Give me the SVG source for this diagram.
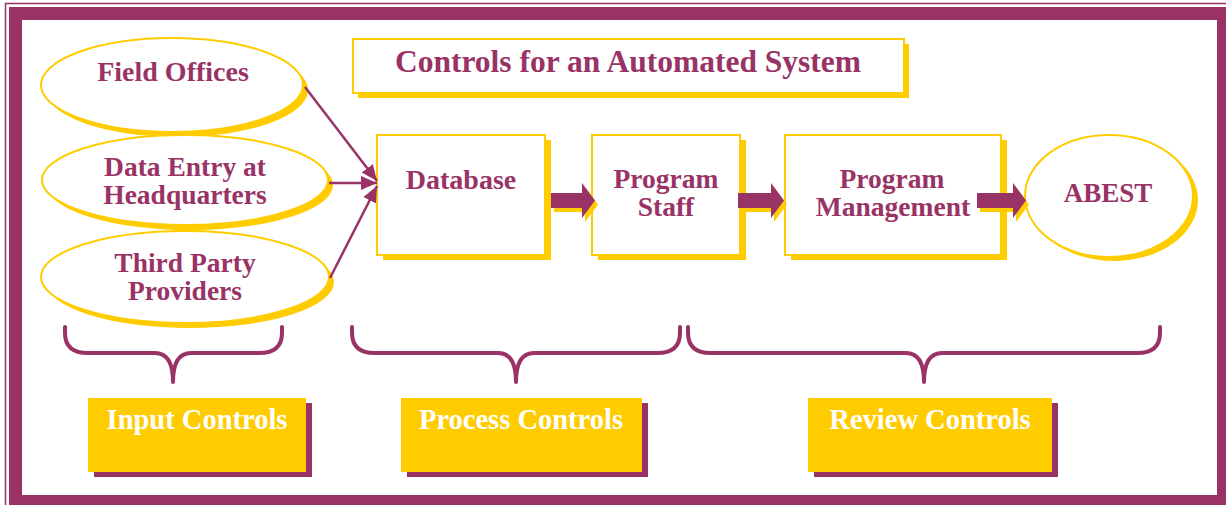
<svg xmlns="http://www.w3.org/2000/svg" width="1226" height="505" viewBox="0 0 1226 505">
<style>
.t{font-family:"Liberation Serif","Times New Roman",serif;font-weight:bold;fill:#993366;text-anchor:middle}
.w{font-family:"Liberation Serif","Times New Roman",serif;font-weight:bold;fill:#ffffff;text-anchor:middle;font-size:28.5px}
.sh{fill:#ffcc00}
.nd{fill:#ffffff;stroke:#ffcc00;stroke-width:2}
.lab{fill:#ffcc00}
.labsh{fill:#993366}
.ln{stroke:#993366;stroke-width:2.5;fill:none}
.br{stroke:#993366;stroke-width:4;fill:none;stroke-linecap:round;stroke-linejoin:round}
.ar{fill:#993366}
</style>
<defs>
<marker id="ah" markerUnits="userSpaceOnUse" markerWidth="18" markerHeight="16" refX="16" refY="8" orient="auto">
<path d="M0,1 L16,8 L0,15 Z" fill="#993366"/>
</marker>
</defs>
<rect width="1226" height="505" fill="#ffffff"/>
<g id="frame">
<rect x="5.5" y="3.5" width="1240" height="520" fill="none" stroke="#993366" stroke-width="1.5"/>
<path fill="#993366" fill-rule="evenodd" d="M9,7 H1226 V505 H9 Z M22,20 V495 H1217 V20 Z"/>
</g>
<g id="title">
<rect x="358" y="44" width="551" height="54" class="sh"/>
<rect x="353" y="39" width="551" height="54" class="nd"/>
<text x="628" y="72" class="t" font-size="31.5">Controls for an Automated System</text>
</g>
<g id="field-offices">
<ellipse cx="177" cy="90" rx="131" ry="47" class="sh"/>
<ellipse cx="172" cy="85" rx="131" ry="47" class="nd"/>
<text x="173" y="81" class="t" font-size="28">Field Offices</text>
</g>
<g id="data-entry">
<ellipse cx="190" cy="185" rx="143" ry="45" class="sh"/>
<ellipse cx="185" cy="180" rx="143" ry="45" class="nd"/>
<text x="185" y="176" class="t" font-size="27.5">Data Entry at</text>
<text x="185" y="204" class="t" font-size="27.5">Headquarters</text>
</g>
<g id="third-party">
<ellipse cx="190" cy="282" rx="144" ry="46" class="sh"/>
<ellipse cx="185" cy="277" rx="144" ry="46" class="nd"/>
<text x="185" y="272" class="t" font-size="27.5">Third Party</text>
<text x="185" y="300" class="t" font-size="27.5">Providers</text>
</g>
<g id="database">
<rect x="383" y="140" width="168" height="120" class="sh"/>
<rect x="377" y="135" width="168" height="120" class="nd"/>
<text x="461" y="189" class="t" font-size="28">Database</text>
</g>
<g id="program-staff">
<rect x="598" y="140" width="148" height="120" class="sh"/>
<rect x="592" y="135" width="148" height="120" class="nd"/>
<text x="666" y="188" class="t" font-size="27.5">Program</text>
<text x="666" y="216" class="t" font-size="27.5">Staff</text>
</g>
<g id="program-management">
<rect x="791" y="140" width="216" height="120" class="sh"/>
<rect x="785" y="135" width="216" height="120" class="nd"/>
<text x="892" y="188" class="t" font-size="27.5">Program</text>
<text x="893" y="216" class="t" font-size="27.5">Management</text>
</g>
<g id="abest">
<ellipse cx="1114" cy="200" rx="84" ry="61" class="sh"/>
<ellipse cx="1109" cy="196" rx="84" ry="61" class="nd"/>
<text x="1108" y="202" class="t" font-size="27">ABEST</text>
</g>
<g id="connectors">
<line x1="305" y1="87" x2="377" y2="181" class="ln" marker-end="url(#ah)"/>
<line x1="329" y1="183" x2="377" y2="183" class="ln" marker-end="url(#ah)"/>
<line x1="330" y1="278" x2="377" y2="186" class="ln" marker-end="url(#ah)"/>
<g transform="translate(3,4)" class="sh">
<polygon points="551,193 582,193 582,183 595,200.5 582,218 582,208 551,208"/>
<polygon points="738,193 771,193 771,183 784,200.5 771,218 771,208 738,208"/>
<polygon points="977,193 1013,193 1013,183 1026,200.5 1013,218 1013,208 977,208"/>
</g>
<g class="ar">
<polygon points="551,193 582,193 582,183 595,200.5 582,218 582,208 551,208"/>
<polygon points="738,193 771,193 771,183 784,200.5 771,218 771,208 738,208"/>
<polygon points="977,193 1013,193 1013,183 1026,200.5 1013,218 1013,208 977,208"/>
</g>
<path class="br" d="M65,327 V333 Q65,353 88,353 H155 Q173,353 173,382 Q173,353 191,353 H259 Q282,353 282,333 V327"/>
<path class="br" d="M352,327 V333 Q352,353 375,353 H498 Q516,353 516,382 Q516,353 534,353 H657 Q680,353 680,333 V327"/>
<path class="br" d="M688,327 V333 Q688,353 711,353 H906 Q924,353 924,382 Q924,353 942,353 H1137 Q1160,353 1160,333 V327"/>
</g>
<g id="input-controls">
<rect x="94" y="403" width="218" height="74" class="labsh"/>
<rect x="88" y="398" width="218" height="74" class="lab"/>
<text x="197" y="429" class="w">Input Controls</text>
</g>
<g id="process-controls">
<rect x="407" y="403" width="241" height="74" class="labsh"/>
<rect x="401" y="398" width="241" height="74" class="lab"/>
<text x="521" y="429" class="w">Process Controls</text>
</g>
<g id="review-controls">
<rect x="814" y="403" width="244" height="74" class="labsh"/>
<rect x="808" y="398" width="244" height="74" class="lab"/>
<text x="930" y="429" class="w">Review Controls</text>
</g>
</svg>
